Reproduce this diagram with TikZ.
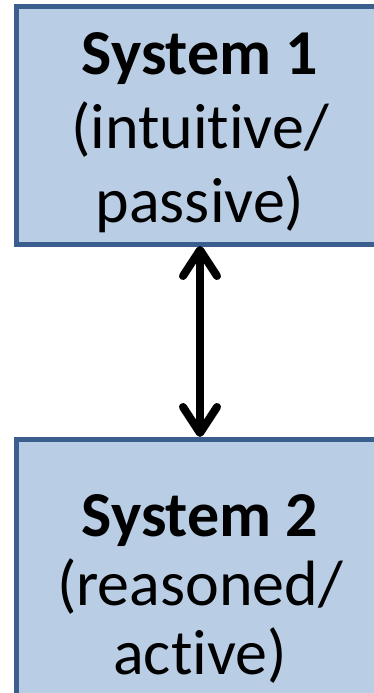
\documentclass[tikz,border=0pt]{standalone}
\usepackage{fontspec}
\setmainfont[Ligatures=NoCommon]{Carlito}
\usetikzlibrary{arrows.meta}
\definecolor{boxfill}{HTML}{B9CDE5}
\definecolor{boxline}{HTML}{3A5F8F}
\begin{document}
\begin{tikzpicture}[x=1pt,y=-1pt,
  sysbox/.style={draw=boxline,fill=boxfill,line width=5pt},
  systext/.style={align=center,text=black,inner sep=0pt},
  link/.style={line width=8pt,{Straight Barb[length=26pt,width=34pt,line cap=round,line join=round]}-{Straight Barb[length=26pt,width=34pt,line cap=round,line join=round]}}]
\useasboundingbox (0,0) rectangle (374,693);
\clip (0,0) rectangle (374,693);
\fill[white] (0,0) rectangle (374,693);
\draw[sysbox] (16,7) rectangle (390,244);
\draw[sysbox] (16,439) rectangle (390,740);
\coordinate (top) at (200,246);
\coordinate (bot) at (200,437);
\node[systext,font=\fontsize{64}{74}\selectfont] (t1) at (200,133) {\textbf{System 1}\\(intuitive/\\passive)};
\node[systext,font=\fontsize{64}{69}\selectfont] (t2) at (200,589) {\textbf{System 2}\\(reasoned/\\active)};
\draw[link] (top) -- (bot);
\end{tikzpicture}
\end{document}
